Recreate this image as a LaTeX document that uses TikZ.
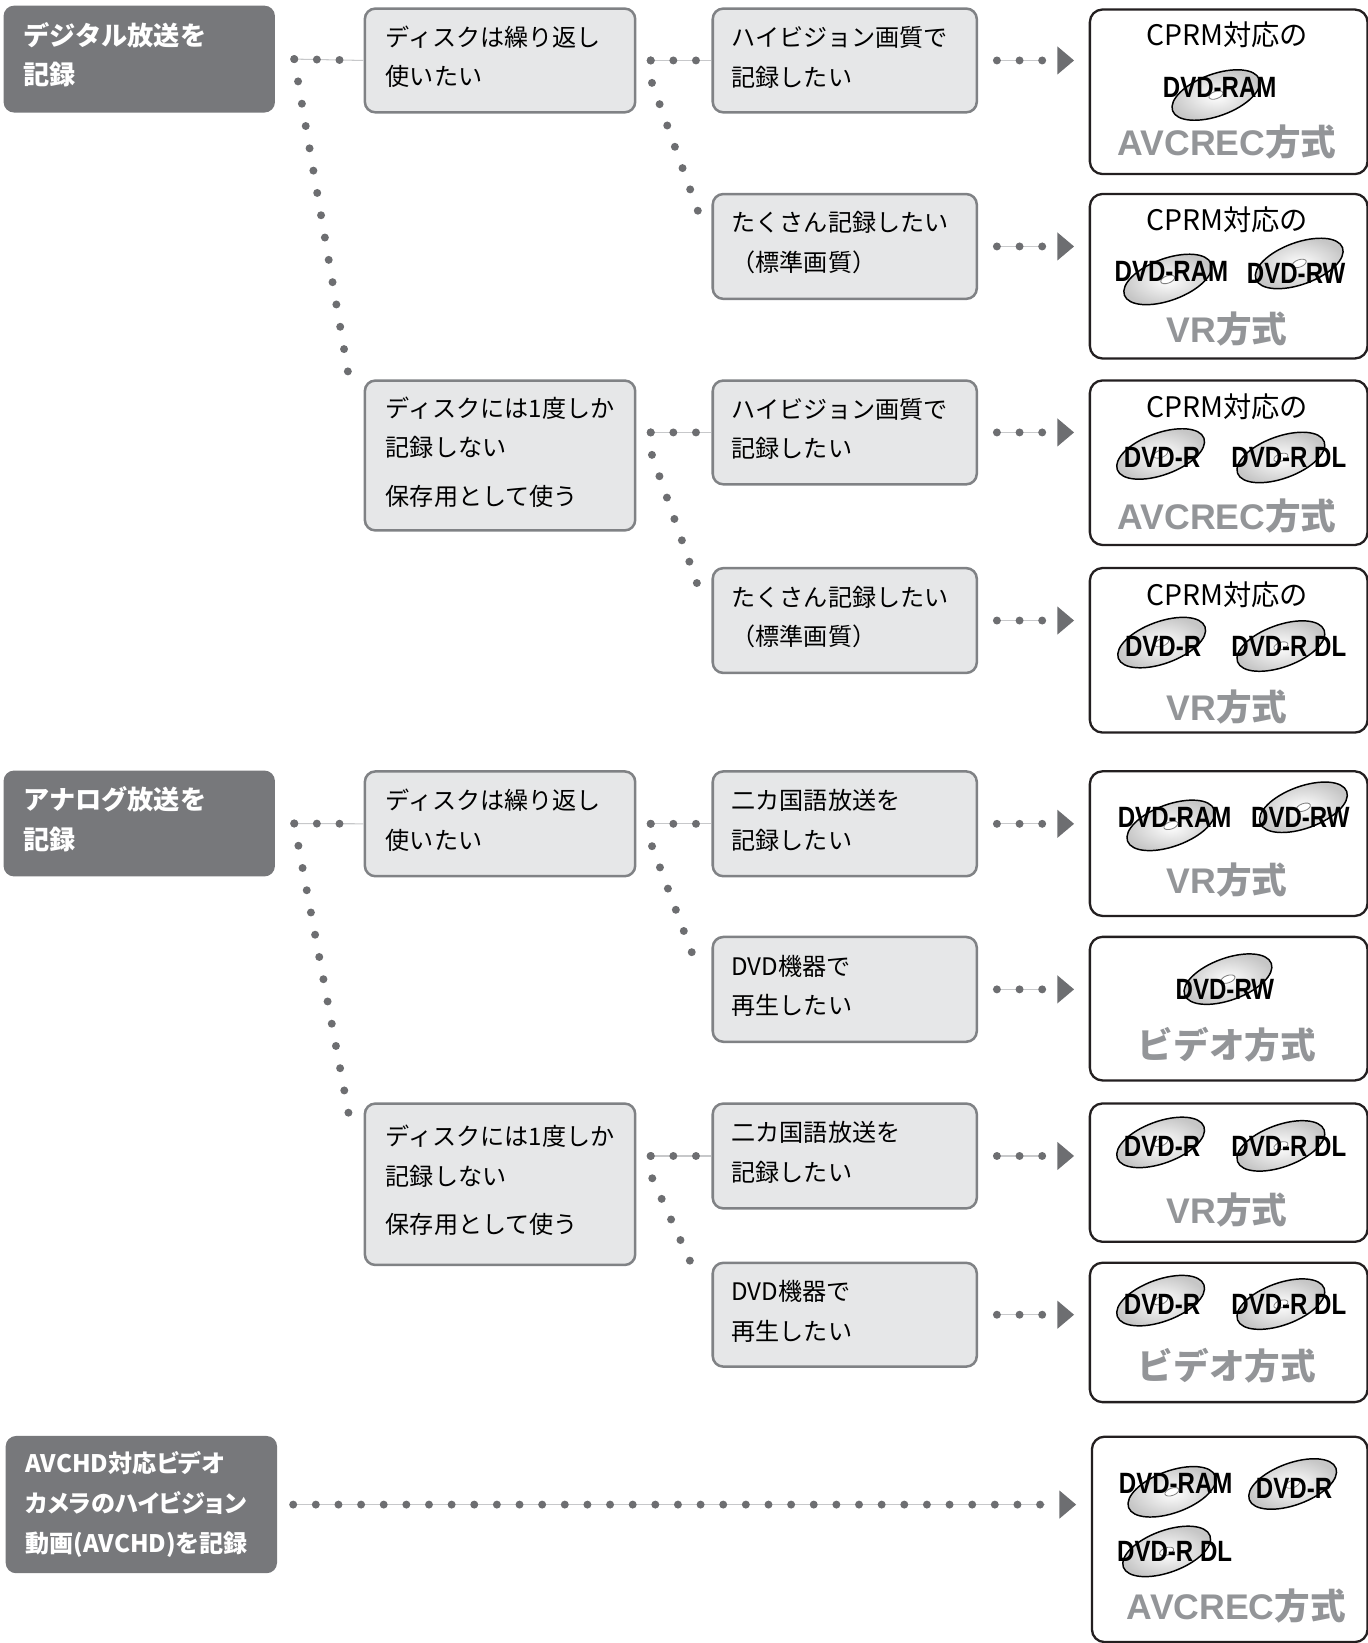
\documentclass[tikz,border=0pt]{standalone}
\usepackage{fontspec}
\setmainfont{Noto Sans CJK JP}
\newfontfamily\headfont{Noto Sans CJK JP}
\newfontfamily\paltfont{Noto Sans CJK JP}[RawFeature=+palt]
\newfontfamily\discfont{Liberation Sans}[FakeStretch=0.82]
\newfontfamily\latinfont{Liberation Sans}
\usetikzlibrary{arrows.meta}

\definecolor{headgray}{HTML}{77787B}
\definecolor{askfill}{HTML}{E6E7E8}
\definecolor{askline}{HTML}{808285}
\definecolor{dotgray}{HTML}{6D6E71}
\definecolor{hairgray}{HTML}{C7C8CA}
\definecolor{boxline}{HTML}{231F20}
\definecolor{methodgray}{HTML}{939598}

\tikzset{
  headbox/.style={fill=headgray,rounded corners=5pt,text=white,anchor=north west,
    text width=110.5pt,inner xsep=9.5pt,align=left,
    font=\headfont\bfseries\fontsize{12.5pt}{19pt}\selectfont},
  askbox/.style={fill=askfill,draw=askline,line width=1.2pt,rounded corners=5pt,
    anchor=north west,align=left,text height=6.3pt,font=\fontsize{11.5pt}{19pt}\selectfont},
  discbox/.style={draw=boxline,line width=1.1pt,rounded corners=6pt,anchor=north west},
  cprm/.style={font=\fontsize{13.5pt}{16pt}\selectfont},
  method/.style={text=methodgray,font=\bfseries\fontsize{17pt}{20pt}\selectfont},
  disclabel/.style={inner sep=0pt,font=\discfont\bfseries\fontsize{14pt}{16pt}\selectfont},
  disc/.style={draw=black,line width=0.7pt,inner color=white,outer color=gray!45},
  dotline/.style={draw=dotgray,line width=3.8pt,line cap=round,dash pattern=on 0pt off 10.8pt},
  hdots/.style={dotline,preaction={draw=hairgray,line width=0.5pt,solid,shorten >=0pt}},
  toresult/.style={dotline,preaction={draw=hairgray,line width=0.5pt,solid,arrows=-,shorten >=22pt},
    -{Triangle[length=8pt,width=13.5pt,line width=0pt]},shorten >=7pt}
}

% disc logo: name, position, label, disc offset
\newcommand\dvd[4]{%
  \begin{scope}[shift={#2}]
    \draw[disc,rotate=20] #4 ellipse [x radius=44,y radius=20];
    \draw[gray,line width=0.4pt,fill=white,rotate=20] #4 ellipse [x radius=7,y radius=3.5];
    \node[disclabel] (#1) at (0,0) {#3};
  \end{scope}}

\begin{document}
\begin{tikzpicture}[x=0.5pt,y=-0.5pt]
  \useasboundingbox (0,0) rectangle (1305,1568);

  % left column
  \node[headbox,text height=6.8pt,minimum height=51pt] (H1) at (3,5) {デジタル放送を\\記録};
  \node[headbox,text height=6.8pt,minimum height=50.5pt] (H2) at (3,735) {アナログ放送を\\記録};
  \node[headbox,minimum height=65.5pt,font=\paltfont\bfseries\fontsize{11.5pt}{19pt}\selectfont] (H3) at (5,1370) {AVCHD対応ビデオ\\カメラのハイビジョン\\動画(AVCHD)を記録};

  % questions
  \node[askbox,text width=109pt,inner xsep=10pt,minimum height=49.5pt] (M1) at (347,7) {ディスクは繰り返し\\使いたい};
  \node[askbox,text width=109pt,inner xsep=10pt,minimum height=71.5pt] (M2) at (347,362) {ディスクには1度しか\\記録しない\\[4pt]保存用として使う};
  \node[askbox,text width=109pt,inner xsep=10pt,minimum height=50pt] (M3) at (347,735) {ディスクは繰り返し\\使いたい};
  \node[askbox,text width=109pt,inner xsep=10pt,minimum height=77pt] (M4) at (347,1052) {ディスクには1度しか\\記録しない\\[4pt]保存用として使う};

  \node[askbox,text width=108pt,inner xsep=9pt,minimum height=49.5pt] (T1) at (679,7) {ハイビジョン画質で\\記録したい};
  \node[askbox,text width=108pt,inner xsep=9pt,minimum height=50pt] (T2) at (679,184) {たくさん記録したい\\（標準画質）};
  \node[askbox,text width=108pt,inner xsep=9pt,minimum height=49.5pt] (T3) at (679,362) {ハイビジョン画質で\\記録したい};
  \node[askbox,text width=108pt,inner xsep=9pt,minimum height=50pt] (T4) at (679,541) {たくさん記録したい\\（標準画質）};
  \node[askbox,text width=108pt,inner xsep=9pt,minimum height=50pt] (T5) at (679,735) {二カ国語放送を\\記録したい};
  \node[askbox,text width=108pt,inner xsep=9pt,minimum height=50pt] (T6) at (679,893) {DVD機器で\\再生したい};
  \node[askbox,text width=108pt,inner xsep=9pt,minimum height=50pt] (T7) at (679,1052) {二カ国語放送を\\記録したい};
  \node[askbox,text width=108pt,inner xsep=9pt,minimum height=49.5pt] (T8) at (679,1204) {DVD機器で\\再生したい};

  % results
  \node[discbox,minimum width=132.5pt,minimum height=78.5pt] (R1) at (1039,8) {};
  \node[discbox,minimum width=132.5pt,minimum height=78.5pt] (R2) at (1039,184) {};
  \node[discbox,minimum width=132.5pt,minimum height=78.5pt] (R3) at (1039,362) {};
  \node[discbox,minimum width=132.5pt,minimum height=78.5pt] (R4) at (1039,541) {};
  \node[discbox,minimum width=132.5pt,minimum height=69pt] (R5) at (1039,735) {};
  \node[discbox,minimum width=132.5pt,minimum height=68.5pt] (R6) at (1039,893) {};
  \node[discbox,minimum width=132.5pt,minimum height=66pt] (R7) at (1039,1052) {};
  \node[discbox,minimum width=132.5pt,minimum height=66.5pt] (R8) at (1039,1204) {};
  \node[discbox,minimum width=131.5pt,minimum height=98pt] (R9) at (1041,1370) {};

  \node[cprm] (c1) at (1171,33) {CPRM対応の};
  \dvd{d1}{(1164,83)}{DVD-RAM}{(-6,6)}
  \node[method] (m1) at (1171,136) {{\latinfont AVCREC}方式};

  \node[cprm] (c2) at (1171,210) {CPRM対応の};
  \dvd{d2}{(1118,259)}{DVD-RAM}{(-6,6)}
  \dvd{d3}{(1237,261)}{DVD-RW}{(6,-8)}
  \node[method] (m2) at (1171,314) {{\latinfont VR}方式};

  \node[cprm] (c3) at (1171,388) {CPRM対応の};
  \dvd{d4}{(1109,437)}{DVD-R}{(0,-4)}
  \dvd{d5}{(1230,437)}{DVD-R DL}{(-7,-3)}
  \node[method] (m3) at (1171,492) {{\latinfont AVCREC}方式};

  \node[cprm] (c4) at (1171,568) {CPRM対応の};
  \dvd{d6}{(1110,617)}{DVD-R}{(0,-4)}
  \dvd{d7}{(1230,617)}{DVD-R DL}{(-7,-3)}
  \node[method] (m4) at (1171,675) {{\latinfont VR}方式};

  \dvd{d8}{(1121,780)}{DVD-RAM}{(-6,6)}
  \dvd{d9}{(1241,780)}{DVD-RW}{(6,-8)}
  \node[method] (m5) at (1171,840) {{\latinfont VR}方式};

  \dvd{d10}{(1169,944)}{DVD-RW}{(6,-8)}
  \node[method] (m6) at (1171,997) {ビデオ方式};

  \dvd{d11}{(1109,1094)}{DVD-R}{(0,-4)}
  \dvd{d12}{(1230,1094)}{DVD-R DL}{(-7,-3)}
  \node[method] (m7) at (1171,1155) {{\latinfont VR}方式};

  \dvd{d13}{(1109,1245)}{DVD-R}{(0,-4)}
  \dvd{d14}{(1230,1245)}{DVD-R DL}{(-7,-3)}
  \node[method] (m8) at (1171,1303) {ビデオ方式};

  \dvd{d15}{(1122,1416)}{DVD-RAM}{(-6,6)}
  \dvd{d16}{(1235,1420)}{DVD-R}{(0,-4)}
  \dvd{d17}{(1121,1481)}{DVD-R DL}{(-7,-3)}
  \node[method] (m9) at (1180,1533) {{\latinfont AVCREC}方式};

  % digital branches
  \draw[hdots,shorten >=11pt] ([xshift=9pt]H1.east) -- (M1.west);
  \draw[dotline] ([xshift=9pt]H1.east) -- ([xshift=-6pt,yshift=-5pt]M2.north west);
  \draw[hdots,shorten >=6pt] ([xshift=-29pt]T1.west) -- (T1.west);
  \draw[dotline] ([xshift=-29pt]T1.west) -- ++(0,18) -- ([xshift=-6pt,yshift=-10pt]T2.north west);
  \draw[hdots,shorten >=6pt] ([xshift=-29pt]T3.west) -- (T3.west);
  \draw[dotline] ([xshift=-29pt]T3.west) -- ++(0,18) -- ([xshift=-6pt,yshift=-10.5pt]T4.north west);

  % analog branches
  \draw[hdots,shorten >=11pt] ([xshift=9pt]H2.east) -- (M3.west);
  \draw[dotline] ([xshift=9pt]H2.east) -- ([xshift=-6pt,yshift=-11.5pt]M4.north west);
  \draw[hdots,shorten >=6pt] ([xshift=-29pt]T5.west) -- (T5.west);
  \draw[dotline] ([xshift=-29pt]T5.west) -- ++(0,18) -- ([xshift=-6pt,yshift=-17pt]T6.north west);
  \draw[hdots,shorten >=6pt] ([xshift=-29pt]T7.west) -- (T7.west);
  \draw[dotline] ([xshift=-29pt]T7.west) -- ++(0,18) -- ([xshift=-6pt,yshift=-9pt]T8.north west);

  % to the discs
  \draw[toresult] ([xshift=9pt]T1.east) -- (R1.west |- T1.east);
  \draw[toresult] ([xshift=9pt]T2.east) -- (R2.west |- T2.east);
  \draw[toresult] ([xshift=9pt]T3.east) -- (R3.west |- T3.east);
  \draw[toresult] ([xshift=9pt]T4.east) -- (R4.west |- T4.east);
  \draw[toresult] ([xshift=9pt]T5.east) -- (R5.west |- T5.east);
  \draw[toresult] ([xshift=9pt]T6.east) -- (R6.west |- T6.east);
  \draw[toresult] ([xshift=9pt]T7.east) -- (R7.west |- T7.east);
  \draw[toresult] ([xshift=9pt]T8.east) -- (R8.west |- T8.east);
  \draw[toresult] ([xshift=7.5pt]H3.east) -- (R9.west |- H3.east);
\end{tikzpicture}
\end{document}
